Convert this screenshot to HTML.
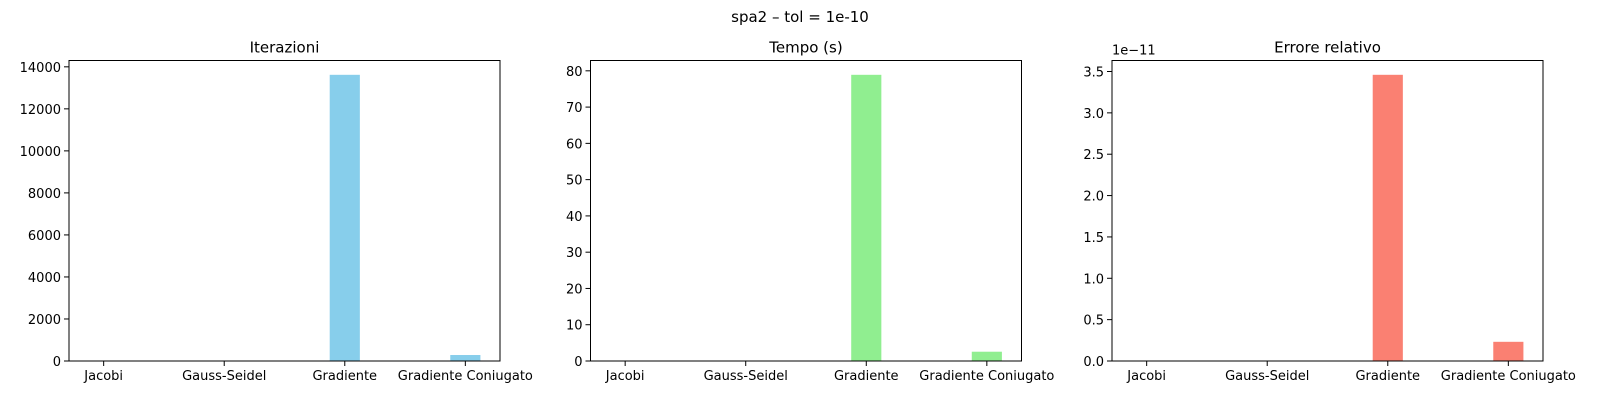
<!DOCTYPE html>
<html><head><meta charset="utf-8"><style>
html,body{margin:0;padding:0;background:#fff;}
svg text{font-family:"DejaVu Sans","Liberation Sans",sans-serif;fill:#000;}
</style></head><body>
<svg id="fig" width="1600" height="400" xmlns="http://www.w3.org/2000/svg">
<rect width="1600" height="400" fill="#fff"/>
<text x="800" y="22" text-anchor="middle" font-size="15">spa2 – tol = 1e-10</text>
</svg>
<script>
const categories = ["Jacobi","Gauss-Seidel","Gradiente","Gradiente Coniugato"];
const iterValues = [0, 0, 13620, 285];
const timeValues = [0, 0, 78.9, 2.56];
const errValues = [0, 0, 3.46, 0.232];
const iterTicks = [0,2000,4000,6000,8000,10000,12000,14000];
const timeTicks = [0,10,20,30,40,50,60,70,80];
const errTicks = ["0.0","0.5","1.0","1.5","2.0","2.5","3.0","3.5"];
const titles = ["Iterazioni","Tempo (s)","Errore relativo"];

const NS="http://www.w3.org/2000/svg";
const svgEl=document.getElementById('fig');
function mk(tag,attrs,parent){const e=document.createElementNS(NS,tag);for(const k in attrs)e.setAttribute(k,attrs[k]);(parent||svgEl).appendChild(e);return e;}

const panels=[
 {left:69,values:iterValues,ticks:iterTicks,labels:iterTicks.map(String),color:"#87ceeb",name:"iterations"},
 {left:590.5,values:timeValues,ticks:timeTicks,labels:timeTicks.map(String),color:"#90ee90",name:"time"},
 {left:1112,values:errValues,ticks:errTicks.map(Number),labels:errTicks,color:"#fa8072",name:"error"}
];
const axTop=60.5,axBottom=361,axW=431,barW=0.25;
panels.forEach((p,pi)=>{
 const g=mk('g',{});
 
 
 const n=categories.length;
 const xmin=-barW/2-(n-1+barW)*0.05, xmax=n-1+barW/2+(n-1+barW)*0.05;
 const x=v=>p.left+(v-xmin)/(xmax-xmin)*axW;
 const ymax=Math.max(...p.values)*1.05;
 const y=v=>axBottom-(v/ymax)*(axBottom-axTop);
 p.values.forEach((v,i)=>{
  const r=mk('rect',{x:x(i-barW/2),y:y(v),width:x(barW)-x(0),height:axBottom-y(v),fill:p.color},g);
  
  
 });
 const fr=mk('rect',{x:p.left,y:axTop,width:axW,height:axBottom-axTop,fill:'none',stroke:'#000','stroke-width':1},g);
 
 
 categories.forEach((c,i)=>{
  mk('line',{x1:x(i),x2:x(i),y1:axBottom,y2:axBottom+5,stroke:'#000'},g);
  const t=mk('text',{x:x(i),y:axBottom+19,'text-anchor':'middle','font-size':13},g);
  t.textContent=c;
  
  
 });
 p.ticks.forEach((v,i)=>{
  mk('line',{x1:p.left-5,x2:p.left,y1:y(v),y2:y(v),stroke:'#000'},g);
  const t=mk('text',{x:p.left-8,y:y(v)+5,'text-anchor':'end','font-size':13},g);
  t.textContent=p.labels[i];
  
  
 });
 const tt=mk('text',{x:p.left+axW/2,y:axTop-8,'text-anchor':'middle','font-size':15},g);
 tt.textContent=titles[pi];
 
 
 if(pi===2){
  const o=mk('text',{x:p.left,y:axTop-6,'font-size':13},g);
  o.textContent="1e\u221211";
  
  
 }
});
</script>
</body></html>
